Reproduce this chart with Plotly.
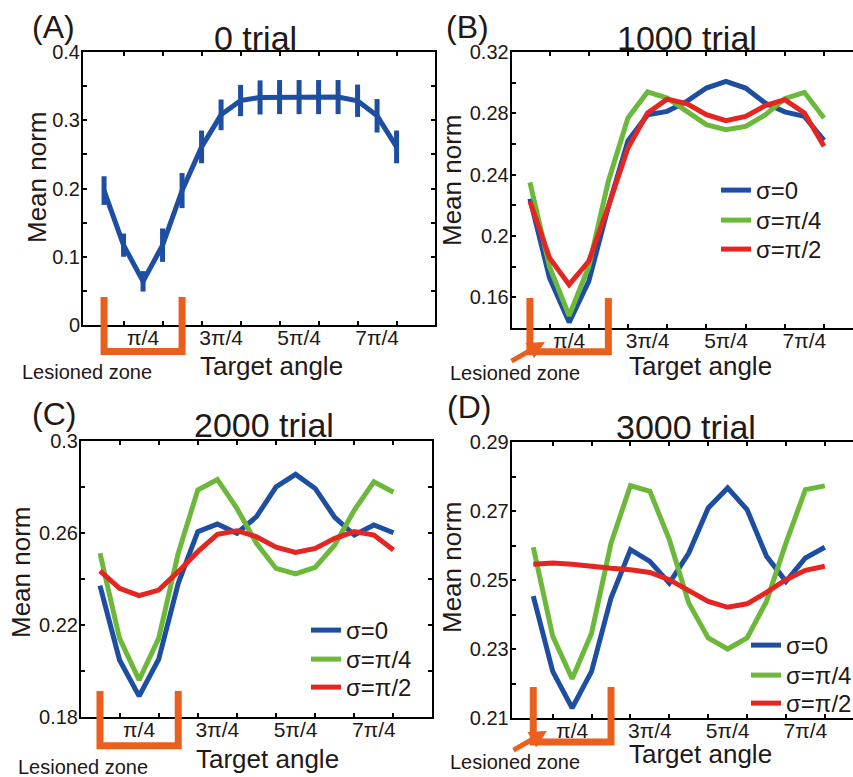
import numpy as np
import plotly.graph_objects as go

W, H = 853, 777

# ---------------- data ----------------
angle_steps = list(range(16))                 # target angle = step * pi/8
angles = [k * np.pi / 8 for k in angle_steps]

trial0_mean = [0.197, 0.117, 0.064, 0.117, 0.197, 0.261, 0.308, 0.329,
               0.3335, 0.334, 0.334, 0.334, 0.334, 0.3286, 0.3066, 0.261]
trial0_err = [0.021, 0.017, 0.015, 0.0245, 0.0257, 0.024, 0.0225, 0.023,
              0.025, 0.025, 0.025, 0.025, 0.025, 0.0237, 0.0245, 0.024]

t1000_s0 = [0.2243, 0.1726, 0.1437, 0.1704, 0.219, 0.262, 0.279, 0.2813,
            0.2878, 0.2965, 0.3009, 0.2965, 0.2867, 0.281, 0.278, 0.2624]
t1000_s1 = [0.235, 0.180, 0.148, 0.180, 0.2357, 0.277, 0.294, 0.290,
            0.2813, 0.2726, 0.2693, 0.2715, 0.279, 0.2896, 0.2937, 0.277]
t1000_s2 = [0.2226, 0.1857, 0.1683, 0.1835, 0.2193, 0.2574, 0.2802, 0.2893,
            0.2863, 0.2791, 0.2752, 0.278, 0.285, 0.2889, 0.2802, 0.2585]

t2000_s0 = [0.2371, 0.2048, 0.1891, 0.2051, 0.2381, 0.2606, 0.2639, 0.2599,
            0.2671, 0.2801, 0.2855, 0.2794, 0.2668, 0.2591, 0.2635, 0.2601]
t2000_s1 = [0.2512, 0.2142, 0.1961, 0.2142, 0.2512, 0.2787, 0.2833, 0.2707,
            0.2555, 0.2446, 0.2422, 0.2451, 0.2548, 0.2700, 0.2823, 0.2777]
t2000_s2 = [0.2435, 0.2359, 0.2328, 0.2352, 0.2432, 0.2519, 0.2594, 0.2610,
            0.2584, 0.2538, 0.2516, 0.2533, 0.2577, 0.2606, 0.2591, 0.2526]

t3000_s0 = [0.2453, 0.2235, 0.2129, 0.2235, 0.2448, 0.2588, 0.2554, 0.2491,
            0.2578, 0.2709, 0.2767, 0.2704, 0.2569, 0.2496, 0.2564, 0.2595]
t3000_s1 = [0.2595, 0.2337, 0.2214, 0.2346, 0.2607, 0.2774, 0.2757, 0.2617,
            0.2433, 0.2332, 0.2300, 0.2332, 0.2438, 0.2607, 0.2762, 0.2773]
t3000_s2 = [0.2546, 0.2549, 0.2546, 0.2539, 0.2534, 0.2530, 0.2522, 0.2501,
            0.2470, 0.2438, 0.2421, 0.2431, 0.2464, 0.2501, 0.2528, 0.2540]

series_names = ["σ=0", "σ=π/4", "σ=π/2"]
x_label_vals = [np.pi / 4, 3 * np.pi / 4, 5 * np.pi / 4, 7 * np.pi / 4]
x_label_text = ["π/4", "3π/4", "5π/4", "7π/4"]
x_minor_vals = [k * np.pi / 8 for k in (1, 3, 5, 7, 9, 11, 13, 15)]
lesion_zone = [0, np.pi / 2]

BLUE = "#1D4EA2"
GREEN = "#6CB83A"
RED = "#E52521"
ORANGE = "#EB5F1E"
FONT = "Liberation Sans, Arial, sans-serif"
TXT = "#231815"


def px(x):
    return x / W


def py(y):
    return 1 - y / H


fig = go.Figure()

panels = {
    "A": dict(xd=(83, 435), yd=(52, 325), xr=(-1.08, 16.97), yr=(0, 0.4001), dt=0.1, t0=0, mn=0.05, mirror_r=True),
    "B": dict(xd=(511.7, 853), yd=(52, 328), xr=(-0.93, 16.48), yr=(0.14, 0.32001), dt=0.04, t0=0.16, mn=0.02, mirror_r=False),
    "C": dict(xd=(81, 432), yd=(441, 717), xr=(-0.97, 16.97), yr=(0.18, 0.30001), dt=0.04, t0=0.18, mn=0.02, mirror_r=True),
    "D": dict(xd=(511.7, 853), yd=(442, 718), xr=(-1.11, 16.45), yr=(0.21, 0.29001), dt=0.02, t0=0.21, mn=0.01, mirror_r=False),
}
axis_ids = {"A": ("x", "y", ""), "B": ("x2", "y2", "2"), "C": ("x3", "y3", "3"), "D": ("x4", "y4", "4")}

# legend placement for each panel: left x of line sample, row centres (px)
legend_pos = {"B": (722, (187, 217, 246)),
              "C": (312, (627, 656, 684)),
              "D": (752, (642, 672, 700))}

# Panel A: mean with error bars
fig.add_trace(go.Scatter(
    x=angles, y=trial0_mean, mode="lines", xaxis="x", yaxis="y",
    line=dict(color=BLUE, width=5), showlegend=False,
    error_y=dict(type="data", array=trial0_err, color=BLUE, thickness=5, width=0),
))

layout = dict(width=W, height=H, margin=dict(l=0, r=0, t=0, b=0, pad=0, autoexpand=False),
              paper_bgcolor="white", plot_bgcolor="white",
              font=dict(family=FONT, color=TXT))

multi = {"B": (t1000_s0, t1000_s1, t1000_s2),
         "C": (t2000_s0, t2000_s1, t2000_s2),
         "D": (t3000_s0, t3000_s1, t3000_s2)}
leg_n = 0
for key, series in multi.items():
    xa, ya, _ = axis_ids[key]
    lx, rows = legend_pos[key]
    for vals, col, name, ry in zip(series, (BLUE, GREEN, RED), series_names, rows):
        leg_n += 1
        leg_id = "legend" if leg_n == 1 else f"legend{leg_n}"
        fig.add_trace(go.Scatter(
            x=angles, y=vals, mode="lines", xaxis=xa, yaxis=ya, name=name,
            line=dict(color=col, width=5), legend=leg_id, showlegend=True,
        ))
        layout[leg_id] = dict(bgcolor="rgba(0,0,0,0)", borderwidth=0,
                              font=dict(size=24, family=FONT, color=TXT),
                              xanchor="left", yanchor="top", itemwidth=30,
                              x=px(lx - 6), y=py(ry - 19))

for key, p in panels.items():
    xa, ya, sfx = axis_ids[key]
    layout["xaxis" + sfx] = dict(
        domain=[px(p["xd"][0]), px(p["xd"][1])],
        range=[p["xr"][0] * np.pi / 8, p["xr"][1] * np.pi / 8],
        anchor=ya, showline=True, linecolor="black", linewidth=2,
        mirror="ticks", showgrid=False, zeroline=False, automargin=False,
        tickmode="array", tickvals=x_label_vals, ticktext=x_label_text,
        ticks="inside", ticklen=0, ticklabelstandoff=-7,
        tickfont=dict(size=21, family=FONT, color=TXT),
        minor=dict(tickmode="array", tickvals=x_minor_vals, ticks="inside",
                   ticklen=4, tickwidth=1.5, tickcolor="black"),
    )
    layout["yaxis" + sfx] = dict(
        domain=[py(p["yd"][1]), py(p["yd"][0])],
        range=list(p["yr"]), anchor=xa, showline=True, linecolor="black", linewidth=2,
        mirror="ticks" if p["mirror_r"] else False, showgrid=False, zeroline=False,
        automargin=False,
        tickmode="linear", tick0=p["t0"], dtick=p["dt"],
        ticks="inside", ticklen=4, tickwidth=1.5, tickcolor="black",
        tickfont=dict(size=20, family=FONT, color=TXT), ticklabelstandoff=-3,
        minor=dict(tickmode="linear", tick0=p["t0"], dtick=p["mn"], ticks="inside",
                   ticklen=4, tickwidth=1.5, tickcolor="black"),
    )

ann = []
def text(s, x, y, size, angle=0):
    ann.append(dict(text=s, x=px(x), y=py(y), xref="paper", yref="paper", showarrow=False,
                    font=dict(size=size, family=FONT, color=TXT), textangle=angle,
                    xanchor="center", yanchor="middle"))

text("0 trial", 256, 38, 34)
text("1000 trial", 687, 38, 34)
text("2000 trial", 264, 425, 34)
text("3000 trial", 686, 427, 34)
text("(A)", 53, 27, 32)
text("(B)", 468, 27, 32)
text("(C)", 54, 414, 32)
text("(D)", 469, 407, 32)
text("Mean norm", 37, 177, 26, -90)
text("Mean norm", 452, 180, 26, -90)
text("Mean norm", 21, 572, 26, -90)
text("Mean norm", 452, 567, 26, -90)
text("Target angle", 271, 366, 26)
text("Target angle", 700, 366, 26)
text("Target angle", 267, 759, 26)
text("Target angle", 700, 754, 26)
text("Lesioned zone", 87, 372, 20)
text("Lesioned zone", 515, 373, 20)
text("Lesioned zone", 83, 767, 20)
text("Lesioned zone", 515, 762, 20)

for hx, hy in ((545, 342), (547, 731)):
    ann.append(dict(text="", x=px(hx), y=py(hy), xref="paper", yref="paper",
                    showarrow=True, arrowhead=2, arrowsize=0.7, arrowwidth=5,
                    arrowcolor=ORANGE, ax=-35, ay=20, standoff=0, startstandoff=0))
layout["annotations"] = ann

shapes = []
brackets = {"A": (297, 351.5), "B": (298, 351.7), "C": (691, 745.7), "D": (687, 742)}
for key, (ytop, ybot) in brackets.items():
    xa, _, _ = axis_ids[key]
    x0, x1 = lesion_zone
    shapes.append(dict(
        type="path", xref=xa, yref="paper",
        path=f"M {x0},{py(ytop)} L {x0},{py(ybot)} L {x1},{py(ybot)} L {x1},{py(ytop)}",
        line=dict(color=ORANGE, width=7), layer="above"))
layout["shapes"] = shapes

fig.update_layout(**layout)
fig.write_html("out.html", config={"displayModeBar": False},
               post_script="document.body.style.margin='0';document.body.style.overflow='hidden';")
